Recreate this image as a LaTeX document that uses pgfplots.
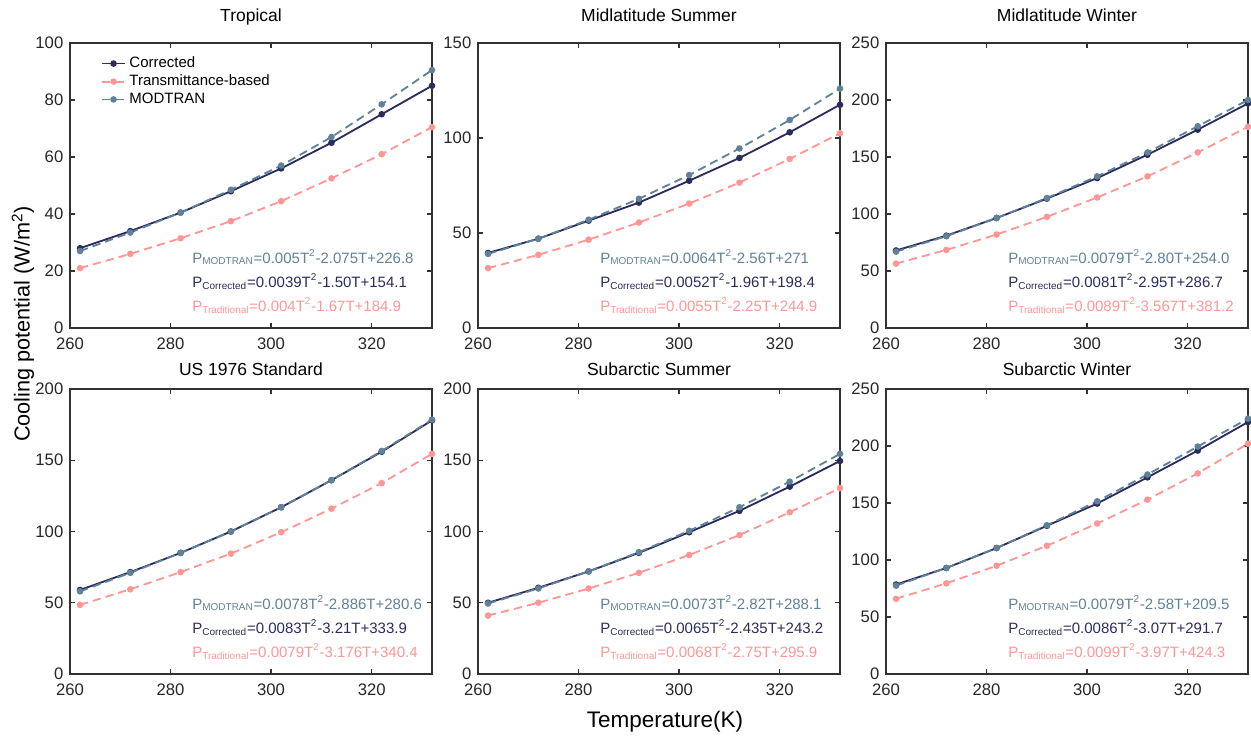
\documentclass[border=0pt]{standalone}
\usepackage{fontspec}
\setmainfont{Liberation Sans}
\usepackage{pgfplots}
\usepackage{pgfplotstable}
\pgfplotsset{compat=1.18}
\definecolor{cnavy}{RGB}{43,44,92}
\definecolor{cpink}{RGB}{255,150,150}
\definecolor{csteel}{RGB}{96,130,152}
\definecolor{caxis}{RGB}{50,50,50}

\pgfplotstableread{
T C Tr M
262 28 21 27
272 34 26 33.5
282 40.5 31.5 40.5
292 48 37.5 48.5
302 56 44.5 57
312 65 52.5 67
322 75 61 78.5
332 85 70.5 90.5
}\tropical
\pgfplotstableread{
T C Tr M
262 39.5 31.5 39
272 47 38.5 47
282 56.5 46.5 57
292 66 55.5 68
302 77.5 65.5 80.5
312 89.5 76.5 94.5
322 103 89 109.5
332 117.5 102.5 126
}\mlsummer
\pgfplotstableread{
T C Tr M
262 68 56.5 67
272 81 68.5 80.5
282 96.5 82 96.5
292 113.5 97.5 114
302 131.5 114.5 133
312 152 133 154
322 174 154 177
332 197 176.5 200
}\mlwinter
\pgfplotstableread{
T C Tr M
262 59 48.5 58
272 71.5 59.5 71
282 85 71.5 85
292 100 84.5 100
302 117 99.5 117
312 136 116 136
322 156 134 156.5
332 178 154.5 178.5
}\usstd
\pgfplotstableread{
T C Tr M
262 50 41 49.5
272 60.5 50 60
282 72 60 72
292 85 71 85.5
302 99.5 83.5 100.5
312 114.5 97.5 117
322 131.5 113.5 135
332 149.5 130.5 154.5
}\sasummer
\pgfplotstableread{
T C Tr M
262 78.5 66 77.5
272 93 79.5 93
282 110.5 95 110.5
292 130 112.5 130.5
302 149.5 132 151.5
312 172.5 153 175
322 196 176 199.5
332 221 202 224
}\sawinter

\pgfplotsset{
  panel/.style={
    scale only axis, width=217.2pt, height=171pt,
    xmin=260, xmax=332, ymin=0,
    xtick={260,280,300,320},
    tick align=inside, major tick length=3pt,
    axis line style={caxis, line width=0.8pt},
    every tick/.style={caxis, line width=0.8pt},
    tick label style={font=\fontsize{10}{11}\selectfont, text=black!85},
    xticklabel style={yshift=-2.5pt},
    yticklabel style={xshift=-0.5pt},
    /pgf/number format/assume math mode=true,
    title style={font=\fontsize{10.5}{12}\selectfont, at={(0.5,1)}, anchor=base},
    legend image code/.code={\draw[mark repeat=2,mark phase=2,##1] plot coordinates {(0pt,0pt) (7pt,0pt) (14pt,0pt)};},
  },
  sC/.style={cnavy, line width=1.1pt, mark=*, mark size=1.4pt, mark options={solid}},
  sT/.style={cpink, line width=1.1pt, dash pattern=on 5pt off 3pt, mark=*, mark size=1.4pt, mark options={solid}},
  sM/.style={csteel, line width=1.1pt, dash pattern=on 5pt off 3pt, mark=*, mark size=1.4pt, mark options={solid}},
}
\newcommand{\eqs}[3]{%
  \node[anchor=west, text=csteel, font=\fontsize{9}{10}\selectfont, inner sep=0pt] at (rel axis cs:0.337,0.248) {P\textsubscript{MODTRAN}=#1};
  \node[anchor=west, text=cnavy, font=\fontsize{9}{10}\selectfont, inner sep=0pt] at (rel axis cs:0.337,0.163) {P\textsubscript{Corrected}=#2};
  \node[anchor=west, text=cpink, font=\fontsize{9}{10}\selectfont, inner sep=0pt] at (rel axis cs:0.337,0.079) {P\textsubscript{Traditional}=#3};
}

\begin{document}
\begin{tikzpicture}
\useasboundingbox (0,0) rectangle (750.6pt,-444.6pt);

% Tropical
\begin{axis}[panel, at={(42pt,-25.8pt)}, anchor=north west, ymax=100, ytick={0,20,40,60,80,100},
  title={Tropical}, title style={yshift=7pt},
  legend style={at={(0.08,0.97)}, anchor=north west, draw=none, fill=none, font=\fontsize{9}{10}\selectfont, row sep=-1.2pt, inner sep=1pt},
  legend cell align=left]
\addplot[sC] table[x=T,y=C]{\tropical};
\addplot[sT] table[x=T,y=Tr]{\tropical};
\addplot[sM] table[x=T,y=M]{\tropical};
\legend{Corrected,Transmittance-based,MODTRAN}
\eqs{0.005T\textsuperscript{2}-2.075T+226.8}{0.0039T\textsuperscript{2}-1.50T+154.1}{0.004T\textsuperscript{2}-1.67T+184.9}
\end{axis}

% Midlatitude Summer
\begin{axis}[panel, at={(286.8pt,-25.8pt)}, anchor=north west, ymax=150, ytick={0,50,100,150},
  title={Midlatitude Summer}, title style={yshift=7pt}]
\addplot[sC] table[x=T,y=C]{\mlsummer};
\addplot[sT] table[x=T,y=Tr]{\mlsummer};
\addplot[sM] table[x=T,y=M]{\mlsummer};
\eqs{0.0064T\textsuperscript{2}-2.56T+271}{0.0052T\textsuperscript{2}-1.96T+198.4}{0.0055T\textsuperscript{2}-2.25T+244.9}
\end{axis}

% Midlatitude Winter
\begin{axis}[panel, at={(531.6pt,-25.8pt)}, anchor=north west, ymax=250, ytick={0,50,100,150,200,250},
  title={Midlatitude Winter}, title style={yshift=7pt}]
\addplot[sC] table[x=T,y=C]{\mlwinter};
\addplot[sT] table[x=T,y=Tr]{\mlwinter};
\addplot[sM] table[x=T,y=M]{\mlwinter};
\eqs{0.0079T\textsuperscript{2}-2.80T+254.0}{0.0081T\textsuperscript{2}-2.95T+286.7}{0.0089T\textsuperscript{2}-3.567T+381.2}
\end{axis}

% US 1976 Standard
\begin{axis}[panel, at={(42pt,-233.4pt)}, anchor=north west, ymax=200, ytick={0,50,100,150,200},
  title={US 1976 Standard}, title style={yshift=2pt}]
\addplot[sC] table[x=T,y=C]{\usstd};
\addplot[sT] table[x=T,y=Tr]{\usstd};
\addplot[sM] table[x=T,y=M]{\usstd};
\eqs{0.0078T\textsuperscript{2}-2.886T+280.6}{0.0083T\textsuperscript{2}-3.21T+333.9}{0.0079T\textsuperscript{2}-3.176T+340.4}
\end{axis}

% Subarctic Summer
\begin{axis}[panel, at={(286.8pt,-233.4pt)}, anchor=north west, ymax=200, ytick={0,50,100,150,200},
  title={Subarctic Summer}, title style={yshift=2pt}]
\addplot[sC] table[x=T,y=C]{\sasummer};
\addplot[sT] table[x=T,y=Tr]{\sasummer};
\addplot[sM] table[x=T,y=M]{\sasummer};
\eqs{0.0073T\textsuperscript{2}-2.82T+288.1}{0.0065T\textsuperscript{2}-2.435T+243.2}{0.0068T\textsuperscript{2}-2.75T+295.9}
\end{axis}

% Subarctic Winter
\begin{axis}[panel, at={(531.6pt,-233.4pt)}, anchor=north west, ymax=250, ytick={0,50,100,150,200,250},
  title={Subarctic Winter}, title style={yshift=2pt}]
\addplot[sC] table[x=T,y=C]{\sawinter};
\addplot[sT] table[x=T,y=Tr]{\sawinter};
\addplot[sM] table[x=T,y=M]{\sawinter};
\eqs{0.0079T\textsuperscript{2}-2.58T+209.5}{0.0086T\textsuperscript{2}-3.07T+291.7}{0.0099T\textsuperscript{2}-3.97T+424.3}
\end{axis}

\node[rotate=90, font=\fontsize{13}{15}\selectfont] at (13.8pt,-194.4pt) {Cooling potential (W/m\textsuperscript{2})};
\node[font=\fontsize{13.5}{15}\selectfont] at (399pt,-433.2pt) {Temperature(K)};
\end{tikzpicture}
\end{document}
